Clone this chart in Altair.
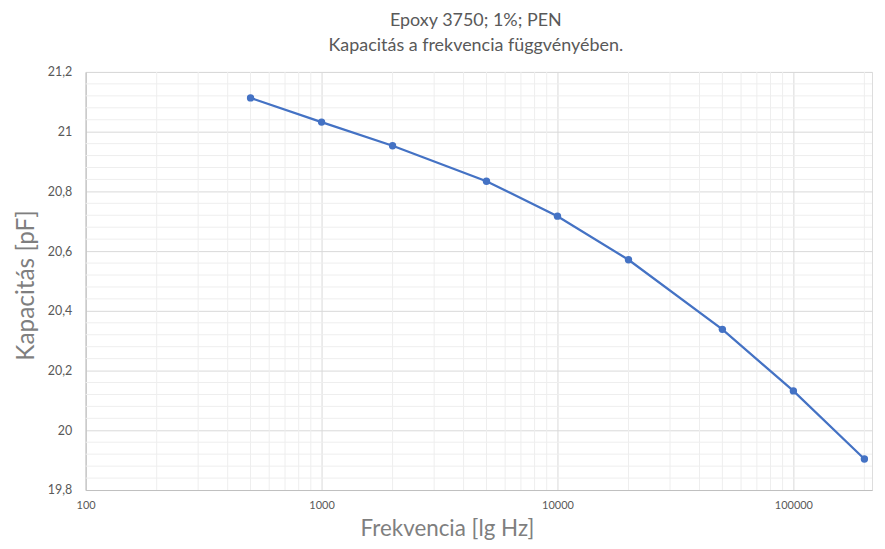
import altair as alt
import pandas as pd

# Data
freq = [500, 1000, 2000, 5000, 10000, 20000, 50000, 100000, 200000]
cap = [21.113, 21.032, 20.953, 20.834, 20.717, 20.571, 20.338, 20.132, 19.904]

x_major = [100, 1000, 10000, 100000]
x_minor = [m * d for d in [100, 1000, 10000, 100000] for m in range(2, 10) if m * d <= 215000]
y_major = [19.8, 20.0, 20.2, 20.4, 20.6, 20.8, 21.0, 21.2]
y_minor = [round(19.8 + 0.04 * i, 2) for i in range(36) if i % 5 != 0]

x_domain = [100, 215443]
y_domain = [19.8, 21.2]

title_lines = ["Epoxy 3750; 1%; PEN", "Kapacitás a frekvencia függvényében."]
x_title = "Frekvencia [lg Hz]"
y_title = "Kapacitás [pF]"

FONT = "Lato"
df = pd.DataFrame({"freq": freq, "cap": cap})

xscale = alt.Scale(type="log", domain=x_domain, nice=False)
yscale = alt.Scale(domain=y_domain, nice=False, zero=False)

x_axis = alt.Axis(
    values=x_major, format="d", title=x_title, grid=True, gridColor="#d9d9d9",
    domainColor="#bfbfbf", ticks=False, labelPadding=10, labelColor="#595959",
    labelFontSize=11, labelFont=FONT, labelFlush=False, titleFont=FONT,
    titleColor="#7f7f7f", titleFontSize=22.5, titleFontWeight="normal",
    titlePadding=7, titleX=363, titleAlign="center",
)
y_axis = alt.Axis(
    values=y_major, labelExpr="replace(format(datum.value, '~g'), '.', ',')",
    title=y_title, grid=True, gridColor="#d9d9d9", domainColor="#bfbfbf",
    ticks=False, labelPadding=14, labelColor="#595959", labelFontSize=12.5,
    labelFont=FONT, titleFont=FONT, titleColor="#7f7f7f", titleFontSize=24.5,
    titleFontWeight="normal", titlePadding=9, titleY=214,
)

xminor = alt.Chart(pd.DataFrame({"freq": x_minor})).mark_rule(
    color="#eeeeee", strokeWidth=1
).encode(x=alt.X("freq:Q", scale=xscale, axis=x_axis))

yminor = alt.Chart(pd.DataFrame({"cap": y_minor})).mark_rule(
    color="#eeeeee", strokeWidth=1
).encode(y=alt.Y("cap:Q", scale=yscale, axis=y_axis))

base = alt.Chart(df).encode(
    x=alt.X("freq:Q", scale=xscale, axis=x_axis),
    y=alt.Y("cap:Q", scale=yscale, axis=y_axis),
)
line = base.mark_line(color="#4472c4", strokeWidth=2.25)
pts = base.mark_circle(color="#4472c4", size=55, opacity=1)

chart = alt.layer(xminor, yminor, line, pts).properties(
    width=790,
    height=420,
    autosize=alt.AutoSizeParams(type="none"),
    padding={"left": 78, "top": 63, "right": 5, "bottom": 55},
    title=alt.Title(
        title_lines, font=FONT, fontSize=18, fontWeight="normal",
        color="#595959", lineHeight=25, anchor="middle", offset=11, dx=-3,
    ),
).configure_view(stroke=None).configure(background="white")

chart.save("out.html", embed_options={"renderer": "svg", "actions": False})
